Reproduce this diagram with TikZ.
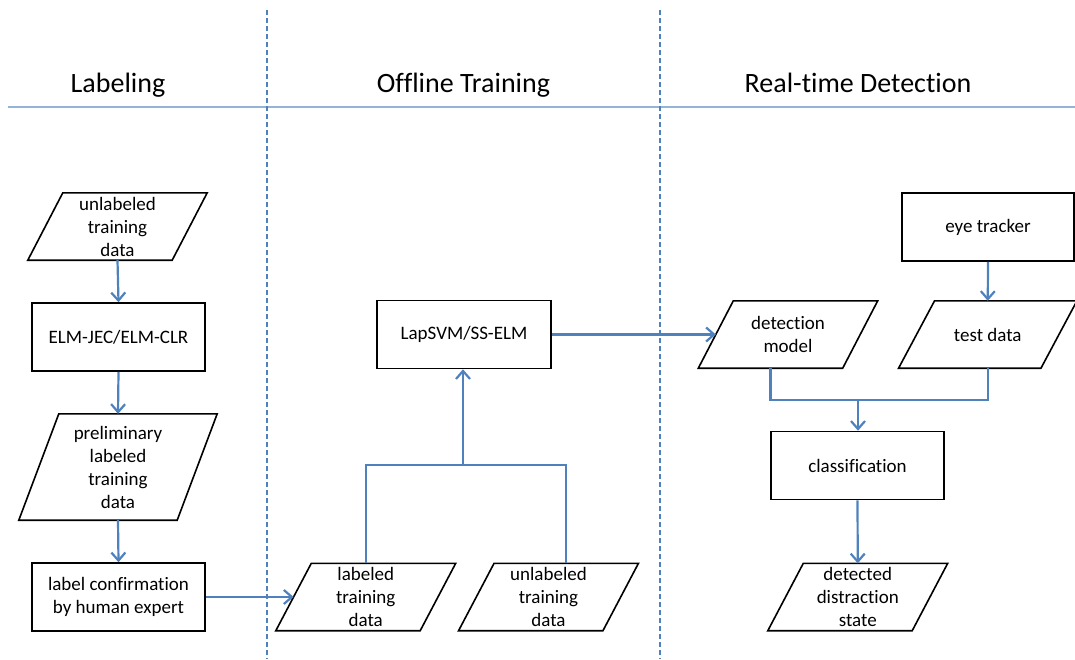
\documentclass[tikz,border=0pt]{standalone}
\usepackage{fontspec}
\setmainfont{Carlito}[Ligatures=NoCommon]
\usetikzlibrary{arrows.meta,calc}
\definecolor{flow}{HTML}{4F81BD}
\definecolor{rule}{HTML}{95B3D7}
\tikzset{
  box/.style={draw=black, line width=1.6pt, minimum width=173pt, minimum height=68pt,
    align=center, inner sep=0pt, font=\fontsize{19}{23}\selectfont},
  iobox/.style={minimum width=144pt, minimum height=67pt, align=center, inner sep=0pt,
    font=\fontsize{19}{23}\selectfont},
  flowline/.style={draw=flow, line width=2.2pt},
  flowarrow/.style={flowline, -{Straight Barb[length=8pt,width=14pt]}},
  lane/.style={draw=flow, line width=1.5pt, dash pattern=on 5pt off 3pt},
  title/.style={font=\fontsize{28}{32}\selectfont, anchor=base}
}
% outline of a data (parallelogram) node; #2 is half the horizontal slant
\newcommand{\dataoutline}[2]{%
  \draw[black, line width=1.6pt, line join=miter]
    ([xshift=#2]#1.north west) -- ([xshift=#2]#1.north east) --
    ([xshift=-#2]#1.south east) -- ([xshift=-#2]#1.south west) -- cycle;}
\begin{document}
\begin{tikzpicture}[x=1pt, y=-1pt]
\useasboundingbox (0,0) rectangle (1075,659);

% swim lanes
\draw[rule, line width=2.5pt] (8,107) -- (1075,107);
\draw[lane] (267,10) -- (267,659);
\draw[lane] (660,10) -- (660,659);
\node[title] (tlab) at (118,92) {Labeling};
\node[title] (toff) at (463.5,92) {Offline Training};
\node[title] (trt)  at (858,92) {Real-time Detection};

% labeling
\node[iobox] (raw) at (117.5,226.5) {unlabeled\\training\\data};
\dataoutline{raw}{17.5pt}
\node[box] (elm) at (118.5,337) {ELM-JEC/ELM-CLR};
\node[iobox, minimum width=158pt, minimum height=106pt] (prel) at (118,467) {preliminary\\labeled\\training\\data};
\dataoutline{prel}{20pt}
\node[box] (conf) at (118.5,597) {label confirmation\\by human expert};

% offline training
\node[box, minimum width=174pt] (lap) at (464,334.5) {LapSVM/SS-ELM};
\node[iobox] (lab) at (365.75,597) {labeled\\training\\data};
\dataoutline{lab}{17.75pt}
\node[iobox] (unl) at (548.5,597) {unlabeled\\training\\data};
\dataoutline{unl}{17.75pt}

% real-time detection
\node[box, minimum width=172pt] (eye) at (988,227) {eye tracker};
\node[iobox] (model) at (788,334.5) {detection\\model};
\dataoutline{model}{17.5pt}
\node[iobox, minimum width=142pt] (test) at (987.75,334.5) {test data};
\dataoutline{test}{18pt}
\node[box] (cls) at (857.5,465.5) {classification};
\node[iobox] (state) at (857.75,597) {detected\\distraction\\state};
\dataoutline{state}{17.75pt}

% connectors
\draw[flowarrow] (raw.south) -- (elm.north);
\draw[flowarrow] (elm.south) -- (prel.north);
\draw[flowarrow] (prel.south) -- (conf.north);
\draw[flowarrow] (conf.east) -- (lab.west);

\coordinate (join) at (463,465);
\draw[flowline] (lab.north) |- (join) -| ([xshift=17.5pt]unl.north);
\draw[flowarrow] (join) -- (lap.south -| join);
\draw[flowarrow] (lap.east) -- (model.west);

\draw[flowarrow] (eye.south) -- (test.north);
\coordinate (merge) at (858,400);
\draw[flowline] ([xshift=-17.5pt]model.south) |- (merge) -| (test.south);
\draw[flowarrow] (merge) -- (cls.north -| merge);
\draw[flowarrow] (cls.south) -- (state.north);
\end{tikzpicture}
\end{document}
